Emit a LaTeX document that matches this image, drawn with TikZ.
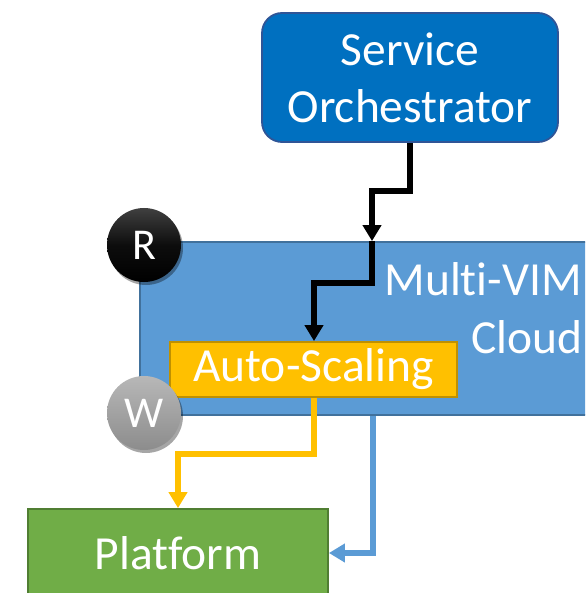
\documentclass[tikz,border=0pt]{standalone}
\usepackage{fontspec}
\setmainfont{Carlito}[Ligatures=NoCommon]
\usetikzlibrary{arrows.meta,shadows}

\definecolor{soFill}{HTML}{0070C0}
\definecolor{soLine}{HTML}{2F5597}
\definecolor{mvFill}{HTML}{5B9BD5}
\definecolor{mvLine}{HTML}{41719C}
\definecolor{asFill}{HTML}{FFC000}
\definecolor{asLine}{HTML}{BF9000}
\definecolor{pfFill}{HTML}{70AD47}
\definecolor{pfLine}{HTML}{507E32}

\tikzset{
  box/.style={draw, line width=1.8pt, text=white, inner sep=0pt,
    font=\fontsize{47.5}{57}\selectfont, align=center},
  badge/.style={circle, minimum size=74pt, inner sep=0pt, text=white,
    font=\fontsize{44}{50}\selectfont,
    drop shadow={shadow xshift=2pt, shadow yshift=-3pt, opacity=0.35, fill=black}},
  conn/.style={line width=6pt, -{Triangle[length=16pt,width=18pt]}},
}

\begin{document}
\begin{tikzpicture}[x=1pt,y=-1pt]
\useasboundingbox (0,0) rectangle (585,593);
\clip (0,0) rectangle (585,593);

% boxes
\node[box, fill=soFill, draw=soLine, rounded corners=20pt,
  minimum width=296pt, minimum height=129pt] (so) at (410,77.5)
  {Service\\Orchestrator};
\node[box, fill=mvFill, draw=mvLine,
  minimum width=560pt, minimum height=173pt] (mv) at (420,328.5) {};
\node[text=white, font=\fontsize{47.5}{57}\selectfont, anchor=base east, inner sep=0pt]
  (mvt1) at (582,295) {Multi-VIM};
\node[text=white, font=\fontsize{47.5}{57}\selectfont, anchor=base east, inner sep=0pt]
  (mvt2) at (583,353) {Cloud};
\node[box, fill=asFill, draw=asLine,
  minimum width=287pt, minimum height=55pt] (as) at (313.5,369.5) {Auto-Scaling};
\node[box, fill=pfFill, draw=pfLine,
  minimum width=300pt, minimum height=88pt] (pf) at (178,553) {Platform};

% badges
\node[badge, top color=black!75, bottom color=black, middle color=black!95] (r) at (144,245) {R};
\node[badge, top color=black!28, bottom color=black!45] (w) at (144,413) {W};

% bend points
\coordinate (j1) at (372,191);
\coordinate (j2) at (314,283);
\coordinate (j3) at (178,454);
\coordinate (j4) at (373,553);

% connectors
\draw[conn, black] (so.south) |- (j1) -- (j1 |- mv.north);
\draw[conn, black] (j1 |- mv.north) |- (j2) -- (j2 |- as.north);
\draw[conn, asFill] (j2 |- as.south) |- (j3) -- (j3 |- pf.north);
\draw[conn, mvFill] (j4 |- mv.south) |- (pf.east);
\end{tikzpicture}
\end{document}
